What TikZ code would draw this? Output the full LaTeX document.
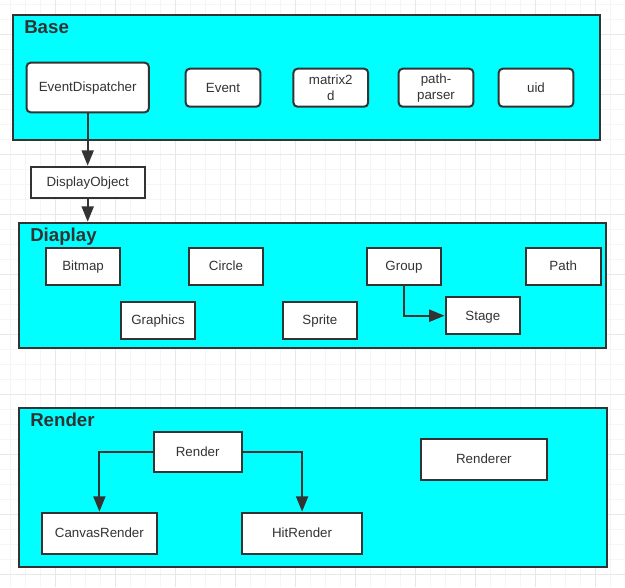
\documentclass[tikz,border=0pt]{standalone}
\usepackage{fontspec}
\setmainfont{Liberation Sans}
\usepackage{xcolor}
\usepackage{tikz}
\usetikzlibrary{arrows.meta, positioning}
\definecolor{linegray}{HTML}{333333}
\definecolor{boxcyan}{HTML}{00FFFF}

\begin{document}
\begin{tikzpicture} [x = 0.75pt, y = -0.75pt,
          every node/.style = {text = linegray, font = \fontsize{10pt}{12pt}\selectfont},
          gridminor/.style = {draw = gray!8, line width = 0.75pt},
          gridmajor/.style = {draw = gray!18, line width = 0.75pt},
          module/.style = {draw = linegray, line width = 1.5pt, fill = boxcyan,
              minimum width = 440.25pt, inner sep = 0pt
          },
          heading/.style = {anchor = base west, inner sep = 0pt,
              font = \fontsize{14pt}{16pt}\selectfont\bfseries
          },
          oneline/.style = {text height = 7pt, text depth = 0.5pt},
          unit/.style = {draw = linegray, line width = 1.5pt, fill = white,
              rounded corners = 3pt, minimum width = 56pt, minimum height = 28.5pt,
              inner sep = 1pt, align = center
          },
          cls/.style = {draw = linegray, line width = 1.5pt, fill = white, oneline,
              minimum width = 56pt, minimum height = 28pt, inner sep = 1pt
          },
          link/.style = {draw = linegray, line width = 1.5pt,
              -{Triangle[length = 11.5pt, width = 9pt]}
          }
          ]

          \useasboundingbox (0,0) rectangle (625,587);
          \fill[white] (0,0) rectangle (625,587);

          % Grid
          \foreach \x in {10.7, 25.7, ..., 625} \draw[gridminor] (\x,0) -- (\x,587);
          \foreach \y in {4.3, 19.3, ..., 587} \draw[gridminor] (0,\y) -- (625,\y);
          \foreach \x in {55.7, 115.7, ..., 625} \draw[gridmajor] (\x,0) -- (\x,587);
          \foreach \y in {34.3, 94.3, ..., 587} \draw[gridmajor] (0,\y) -- (625,\y);

          % Modules
          \node (base) [module, minimum height = 93.75pt] at (306.5,77.5) {};
          \node (display) [module, minimum height = 93.75pt] at (312.5,285.2) {};
          \node (render) [module, minimum width = 440.7pt, minimum height = 118.8pt] at (312.8,487.5) {};

          \node (baset) [heading] at (24,33) {Base};
          \node (displayt) [heading] at (30,241) {Diaplay};
          \node (rendert) [heading] at (30,426.7) {Render};

          % Base
          \node (evd) [unit, oneline, minimum width = 91.7pt, minimum height = 37.2pt] at (87.7,87.5) {EventDispatcher};
          \node (event) [unit, oneline] at (223,87.7) {Event};
          \node (matrix) [unit] at (330.8,87.7) {matrix2\\d};
          \node (parser) [unit] at (436,87.7) {path-\\parser};
          \node (uid) [unit, oneline] at (536,87.7) {uid};

          \node (dobj) [cls, minimum width = 85.5pt, minimum height = 23.5pt] at (87.7,182.3) {DisplayObject};

          % Diaplay
          \node (bitmap) [cls] at (83.1,266.3) {Bitmap};
          \node (circle) [cls] at (226,266.3) {Circle};
          \node (group) [cls] at (404,266.3) {Group};
          \node (pathnode) [cls] at (563.2,266.3) {Path};
          \node (graphics) [cls] at (158,320.3) {Graphics};
          \node (sprite) [cls] at (319.9,320.3) {Sprite};
          \node (stage) [cls] at (482.9,315.7) {Stage};

          % Render
          \node (rnd) [cls, minimum width = 65.8pt, minimum height = 30pt] at (197.7,451.7) {Render};
          \node (renderer) [cls, minimum width = 94.5pt, minimum height = 31pt] at (483.9,459.3) {Renderer};
          \node (canvas) [cls, minimum width = 86.4pt, minimum height = 31pt] at (99.4,533.3) {CanvasRender};
          \node (hit) [cls, minimum width = 90.3pt, minimum height = 31pt] at (302.1,533.3) {HitRender};

          % Links
          \draw[link] (evd) -- (dobj);
          \draw[link] (dobj.south) -- (dobj.south |- display.north);
          \draw[link] (group.south) |- (stage.west);
          \draw[link] (rnd.west) -| (canvas.north);
          \draw[link] (rnd.east) -| (hit.north);

        \end{tikzpicture}
\end{document}
